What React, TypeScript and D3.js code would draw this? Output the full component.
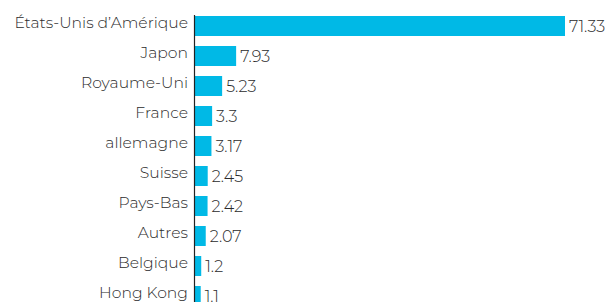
import * as d3 from "d3";
import { useEffect, useRef } from "react";

const countries = [
  "États-Unis d’Amérique",
  "Japon",
  "Royaume-Uni",
  "France",
  "allemagne",
  "Suisse",
  "Pays-Bas",
  "Autres",
  "Belgique",
  "Hong Kong",
];
const shares = [71.33, 7.93, 5.23, 3.3, 3.17, 2.45, 2.42, 2.07, 1.2, 1.1];
const shareLabels = ["71.33", "7.93", "5.23", "3.3", "3.17", "2.45", "2.42", "2.07", "1.2", "1.1"];

export default function App() {
  const ref = useRef<SVGSVGElement | null>(null);
  useEffect(() => {
    if (!ref.current) return;
    const svg = d3.select(ref.current);
    svg.selectAll("*").remove();
    const font = "Montserrat, 'Open Sans', Lato, sans-serif";
    const x = d3.scaleLinear().domain([0, d3.max(shares) ?? 1]).range([195, 565]);
    const y = d3.scaleBand().domain(countries).range([6, 316]).padding(1 / 3);
    const rows = countries.map((c, i) => ({ c, v: shares[i], t: shareLabels[i] }));

    svg.append("g")
      .selectAll("rect")
      .data(rows)
      .enter()
      .append("rect")
      .attr("x", x(0))
      .attr("y", (d) => y(d.c) ?? 0)
      .attr("width", (d) => x(d.v) - x(0))
      .attr("height", y.bandwidth())
      .attr("fill", "#00B9E6");

    // value labels, centred on the bar
    svg.append("g")
      .selectAll("text")
      .data(rows)
      .enter()
      .append("text")
      .attr("x", (d) => x(d.v) + 4)
      .attr("y", (d) => (y(d.c) ?? 0) + y.bandwidth() / 2)
      .attr("dy", "0.36em")
      .attr("font-family", font)
      .attr("font-weight", 300)
      .attr("font-size", "16px")
      .attr("fill", "#2b2b2b")
      .text((d) => d.t);

    // category labels sit a little above bar centre
    svg.append("g")
      .selectAll("text")
      .data(rows)
      .enter()
      .append("text")
      .attr("x", 188)
      .attr("y", (d) => (y(d.c) ?? 0) + y.bandwidth() / 2 - 3.5)
      .attr("dy", "0.36em")
      .attr("text-anchor", "end")
      .attr("font-family", font)
      .attr("font-weight", 300)
      .attr("font-size", "15.6px")
      .attr("fill", "#2b2b2b")
      .text((d) => d.c);

    svg.append("line")
      .attr("x1", 194.5)
      .attr("x2", 194.5)
      .attr("y1", 15)
      .attr("y2", 316)
      .attr("stroke", "#222")
      .attr("stroke-width", 1.2);
  }, []);
  return (
    <svg
      ref={ref}
      width={608}
      height={302}
      viewBox="0 0 608 302"
      style={{ position: "absolute", left: 0, top: 0, background: "#fff" }}
    />
  );
}
